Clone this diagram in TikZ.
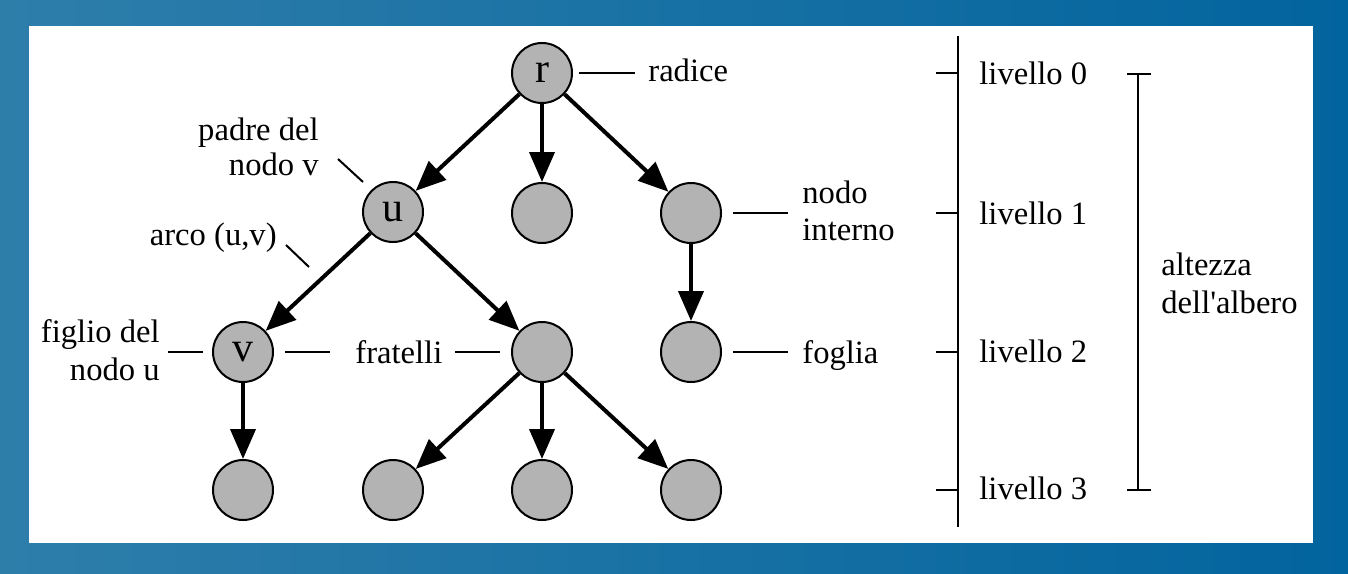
\documentclass[tikz,border=0pt]{standalone}
\usepackage{fontspec}
\setmainfont{Liberation Serif}[Ligatures=TeXOff]
\usetikzlibrary{arrows.meta}
\definecolor{bgL}{RGB}{46,126,170}
\definecolor{bgR}{RGB}{2,100,158}
\definecolor{nodegray}{RGB}{179,179,179}
\begin{document}
\begin{tikzpicture}[x=0.5pt,y=-0.5pt,
  vert/.style={circle,draw=black,fill=nodegray,line width=1pt,minimum size=30pt,inner sep=0pt,font=\fontsize{21}{21}\selectfont},
  edge/.style={line width=2pt,-{Triangle[length=15pt,width=12.5pt]}},
  leader/.style={line width=1pt},
  lbl/.style={inner sep=0pt,font=\fontsize{16.3}{18.5}\selectfont}]
\useasboundingbox (0,0) rectangle (1348,573);
\shade[left color=bgL,right color=bgR] (0,0) rectangle (1348,573);
\fill[white] (29,26) rectangle (1313,543);
% vertices
\node[vert] (r) at (542,73) {r};
\node[vert] (m1) at (542,213) {};
\node[vert] (u) at (393,212) {u};
\node[vert] (n1) at (691,213) {};
\node[vert] (v) at (243,352) {v};
\node[vert] (b) at (542,352) {};
\node[vert] (f) at (691,352) {};
\node[vert] (l1) at (243,490) {};
\node[vert] (l2) at (393,490) {};
\node[vert] (l3) at (542,490) {};
\node[vert] (l4) at (691,490) {};
% edges
\draw[edge] (r) -- (u);
\draw[edge] (r) -- (m1);
\draw[edge] (r) -- (n1);
\draw[edge] (u) -- (v);
\draw[edge] (u) -- (b);
\draw[edge] (n1) -- (f);
\draw[edge] (v) -- (l1);
\draw[edge] (b) -- (l2);
\draw[edge] (b) -- (l3);
\draw[edge] (b) -- (l4);
% labels
\node[lbl,anchor=base west] (radice) at (648,81) {radice};
\node[lbl,anchor=base west] (nodo) at (802,203) {nodo};
\node[lbl,anchor=base west] (interno) at (802,240) {interno};
\node[lbl,anchor=base west] (foglia) at (802,363) {foglia};
\node[lbl,anchor=base west] (fratelli) at (355,363) {fratelli};
\node[lbl,anchor=base east] (figlio) at (160,342) {figlio del};
\node[lbl,anchor=base east] (nodou) at (160,380) {nodo u};
\node[lbl,anchor=base east] (padre) at (319,140) {padre del};
\node[lbl,anchor=base east] (nodov) at (319,175) {nodo v};
\node[lbl,anchor=base east] (arco) at (277,245) {arco (u,v)};
\node[lbl,anchor=base west] (liv0) at (979,84) {livello 0};
\node[lbl,anchor=base west] (liv1) at (979,224) {livello 1};
\node[lbl,anchor=base west] (liv2) at (979,362) {livello 2};
\node[lbl,anchor=base west] (liv3) at (979,499) {livello 3};
\node[lbl,anchor=base west] (alt) at (1161,275) {altezza};
\node[lbl,anchor=base west] (dell) at (1161,313) {dell'albero};
% leader lines
\coordinate (a1) at (579,73); \coordinate (a2) at (635,73);
\draw[leader] (a1) -- (a2);
\coordinate (c1) at (733,213); \coordinate (c2) at (788,213);
\draw[leader] (c1) -- (c2);
\coordinate (d1) at (733,352); \coordinate (d2) at (788,352);
\draw[leader] (d1) -- (d2);
\coordinate (e1) at (168,352); \coordinate (e2) at (203,352);
\draw[leader] (e1) -- (e2);
\coordinate (g1) at (285,352); \coordinate (g2) at (330,352);
\draw[leader] (g1) -- (g2);
\coordinate (h1) at (455,352); \coordinate (h2) at (500,352);
\draw[leader] (h1) -- (h2);
\coordinate (p1) at (338,159); \coordinate (p2) at (363,182);
\draw[leader] (p1) -- (p2);
\coordinate (q1) at (286,245); \coordinate (q2) at (309,267);
\draw[leader] (q1) -- (q2);
% level ruler
\coordinate (rt) at (958,36); \coordinate (rb) at (958,527);
\draw[leader] (rt) -- (rb);
\foreach \yy in {73,213,352,490} {\draw[leader] (936,\yy) -- (958,\yy);}
% height bracket
\coordinate (ht) at (1138,74); \coordinate (hb) at (1138,490);
\draw[leader] (ht) -- (hb);
\draw[leader] (1127,74) -- (1151,74);
\draw[leader] (1127,490) -- (1151,490);
\end{tikzpicture}
\end{document}
